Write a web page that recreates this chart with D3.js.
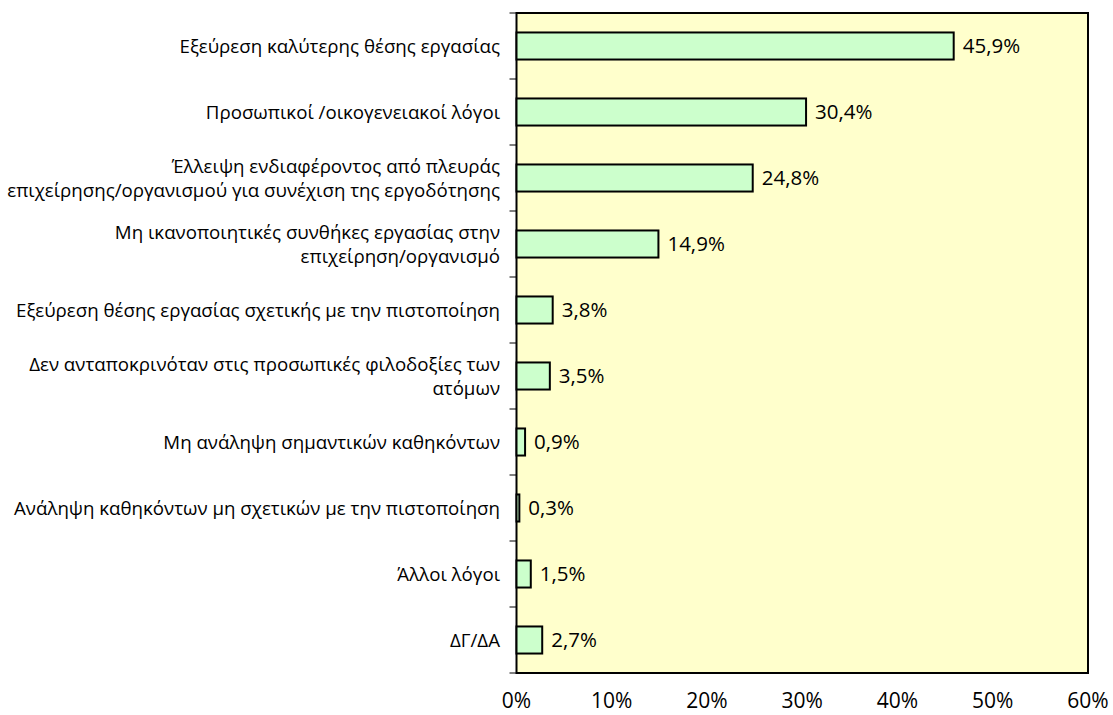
<!DOCTYPE html>
<html><head><meta charset="utf-8">
<script src="https://cdn.jsdelivr.net/npm/d3@7/dist/d3.min.js"></script>
<style>body{margin:0;background:#fff}</style>
</head><body>
<svg id="c" width="1113" height="715"></svg>
<script>
const categories = [
  ["Εξεύρεση καλύτερης θέσης εργασίας"],
  ["Προσωπικοί /οικογενειακοί λόγοι"],
  ["Έλλειψη ενδιαφέροντος από πλευράς", "επιχείρησης/οργανισμού για συνέχιση της εργοδότησης"],
  ["Μη ικανοποιητικές συνθήκες εργασίας στην", "επιχείρηση/οργανισμό"],
  ["Εξεύρεση θέσης εργασίας σχετικής με την πιστοποίηση"],
  ["Δεν ανταποκρινόταν στις προσωπικές φιλοδοξίες των", "ατόμων"],
  ["Μη ανάληψη σημαντικών καθηκόντων"],
  ["Ανάληψη καθηκόντων μη σχετικών με την πιστοποίηση"],
  ["Άλλοι λόγοι"],
  ["ΔΓ/ΔΑ"]
];
const values = [45.9, 30.4, 24.8, 14.9, 3.8, 3.5, 0.9, 0.3, 1.5, 2.7];
const valueLabels = ["45,9%", "30,4%", "24,8%", "14,9%", "3,8%", "3,5%", "0,9%", "0,3%", "1,5%", "2,7%"];
const xTicks = [0, 10, 20, 30, 40, 50, 60];

const svg = d3.select("#c");
const m = {l: 516.5, r: 1088, t: 13, b: 673};
const font = "'Open Sans', sans-serif";
const x = d3.scaleLinear().domain([0, 60]).range([m.l, m.r]);
const y = d3.scaleBand().domain(d3.range(values.length)).range([m.t, m.b]).paddingInner(0.59).paddingOuter(0.295);

svg.append("rect").attr("x", m.l).attr("y", m.t).attr("width", m.r - m.l).attr("height", m.b - m.t)
  .attr("fill", "#FFFFCC").attr("stroke", "#000").attr("stroke-width", 2);

svg.selectAll("rect.bar").data(values).join("rect").attr("class", "bar")
  .attr("x", x(0)).attr("y", (d, i) => y(i)).attr("width", d => x(d) - x(0)).attr("height", y.bandwidth())
  .attr("fill", "#CCFFCC").attr("stroke", "#000").attr("stroke-width", 2);

svg.selectAll("text.val").data(values).join("text").attr("class", "val")
  .attr("x", d => x(d) + 9).attr("y", (d, i) => y(i) + y.bandwidth() / 2).attr("dy", "0.36em")
  .attr("font-family", font).attr("font-size", 20.5).attr("fill", "#000").text((d, i) => valueLabels[i]);

// left axis ticks
const step = (m.b - m.t) / values.length;
const tickYs = d3.range(values.length + 1).map(i => m.t + i * step);
svg.selectAll("line.yt").data(tickYs).join("line").attr("class", "yt")
  .attr("x1", m.l - 7).attr("x2", m.l).attr("y1", d => d).attr("y2", d => d)
  .attr("stroke", "#000").attr("stroke-width", 1);

// category labels
const lab = svg.selectAll("text.cat").data(categories).join("text").attr("class", "cat")
  .attr("text-anchor", "end").attr("font-family", font).attr("font-size", 18.7).attr("fill", "#000");
lab.each(function(lines, i) {
  const cy = y(i) + y.bandwidth() / 2;
  const lh = 24;
  const t = d3.select(this);
  lines.forEach((s, k) => {
    t.append("tspan").attr("x", 500).attr("y", cy + (k - (lines.length - 1) / 2) * lh).attr("dy", "0.36em").text(s);
  });
});

// x axis labels
svg.selectAll("text.xt").data(xTicks).join("text").attr("class", "xt")
  .attr("x", d => x(d)).attr("y", 708).attr("text-anchor", "middle")
  .attr("font-family", font).attr("font-size", 21).attr("fill", "#000").text(d => d + "%");
</script>
</body></html>
